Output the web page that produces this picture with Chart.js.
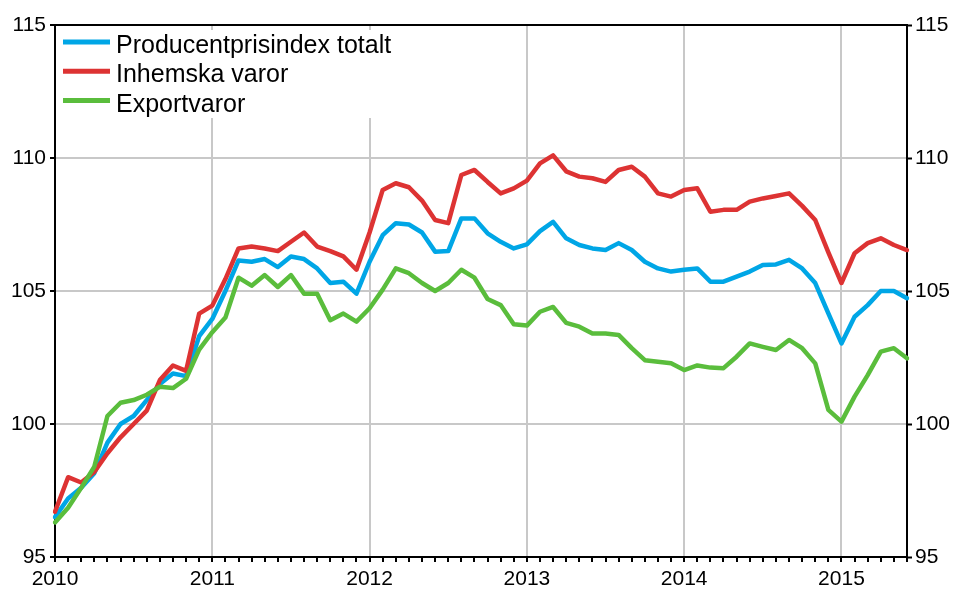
<!DOCTYPE html>
<html>
<head>
<meta charset="utf-8">
<script src="https://cdn.jsdelivr.net/npm/chart.js@4.4.1/dist/chart.umd.min.js"></script>
<style>
html,body{margin:0;padding:0;background:#fff;}
canvas{display:block;}
</style>
</head>
<body>
<canvas id="c" width="956" height="590"></canvas>
<script>
// ---- data ----
const years = ['2010','2011','2012','2013','2014','2015'];
const months = ['01','02','03','04','05','06','07','08','09','10','11','12'];
const monthCount = 66; // Jan 2010 .. Jun 2015
const categories = [];
for (let i = 0; i < monthCount; i++) {
  categories.push(years[Math.floor(i / 12)] + 'M' + months[i % 12]);
}

const seriesNames = ['Producentprisindex totalt', 'Inhemska varor', 'Exportvaror'];

const totalt = [
  96.5, 97.2, 97.6, 98.15, 99.3, 100.0, 100.3, 100.9, 101.5, 101.9, 101.8, 103.3,
  103.95, 105.0, 106.15, 106.1, 106.2, 105.9, 106.3, 106.2, 105.85, 105.3, 105.35, 104.9,
  106.1, 107.1, 107.55, 107.5, 107.2, 106.48, 106.5, 107.73, 107.73, 107.17, 106.85, 106.6,
  106.75, 107.25, 107.6, 106.98, 106.73, 106.6, 106.54, 106.8, 106.54, 106.1, 105.85, 105.73,
  105.8, 105.85, 105.35, 105.35, 105.54, 105.73, 105.98, 106.0, 106.17, 105.85, 105.3, 104.16,
  103.03, 104.03, 104.47, 105.0, 105.0, 104.73
];

const inhemska = [
  96.7, 98.0, 97.8, 98.2, 98.9, 99.5, 100.0, 100.5, 101.65, 102.2, 102.0, 104.15,
  104.45, 105.45, 106.6, 106.67, 106.6, 106.5, 106.85, 107.2, 106.67, 106.5, 106.3, 105.8,
  107.2, 108.8, 109.05, 108.9, 108.4, 107.67, 107.55, 109.36, 109.55, 109.1, 108.67, 108.86,
  109.15, 109.8, 110.1, 109.5, 109.3, 109.24, 109.1, 109.55, 109.67, 109.3, 108.67, 108.55,
  108.8, 108.86, 107.98, 108.05, 108.05, 108.36, 108.48, 108.57, 108.67, 108.2, 107.67, 106.45,
  105.3, 106.42, 106.8, 106.98, 106.73, 106.54
];

const exportvaror = [
  96.3, 96.85, 97.6, 98.4, 100.3, 100.8, 100.9, 101.1, 101.4, 101.35, 101.7, 102.8,
  103.45, 104.0, 105.5, 105.2, 105.6, 105.15, 105.6, 104.9, 104.9, 103.9, 104.15, 103.85,
  104.35, 105.05, 105.85, 105.67, 105.3, 105.0, 105.3, 105.8, 105.5, 104.7, 104.47, 103.75,
  103.7, 104.22, 104.4, 103.8, 103.66, 103.4, 103.4, 103.35, 102.85, 102.4, 102.34, 102.28,
  102.03, 102.2, 102.12, 102.1, 102.53, 103.03, 102.9, 102.78, 103.16, 102.85, 102.28, 100.53,
  100.09, 101.03, 101.84, 102.72, 102.85, 102.47
];

const yMin = 95, yMax = 115, yStep = 5;

// ---- styles ----
const colBlue = '#00a6e6', colRed = '#dd3333', colGreen = '#5abd3c';
const gridCol = '#c8c8c8';
const fontFam = '"Liberation Sans", Arial, sans-serif';

const legendPlugin = {
  id: 'boxLegend',
  beforeDatasetsDraw(chart) {
    const {ctx, chartArea} = chart;
    ctx.save();
    ctx.fillStyle = '#fff';
    ctx.fillRect(chartArea.left + 2, 30, 353, 88);
    chart.data.datasets.forEach((ds, i) => {
      const y = 42 + i * 29.3;
      ctx.strokeStyle = ds.borderColor;
      ctx.lineWidth = 5;
      ctx.beginPath();
      ctx.moveTo(63, y);
      ctx.lineTo(110, y);
      ctx.stroke();
      ctx.fillStyle = '#000';
      ctx.font = '25px ' + fontFam;
      ctx.textBaseline = 'alphabetic';
      ctx.textAlign = 'left';
      ctx.fillText(ds.label, 116, y + 11);
    });
    ctx.restore();
  }
};

const tickFont = {family: fontFam, size: 21};

new Chart(document.getElementById('c'), {
  type: 'line',
  data: {
    labels: categories,
    datasets: [
      {label: seriesNames[0], data: totalt, borderColor: colBlue, order: 3},
      {label: seriesNames[1], data: inhemska, borderColor: colRed, order: 2},
      {label: seriesNames[2], data: exportvaror, borderColor: colGreen, order: 1}
    ].map(d => Object.assign(d, {borderWidth: 4.5, pointRadius: 0, tension: 0, fill: false, borderJoinStyle: 'round', borderCapStyle: 'round'}))
  },
  options: {
    responsive: false,
    animation: false,
    layout: {padding: {top: 25, left: 0, right: 0, bottom: 0}},
    plugins: {legend: {display: false}, tooltip: {enabled: false}},
    scales: {
      x: {
        type: 'category',
        offset: false,
        afterFit(s) { s.height = 33; },
        border: {color: '#000', width: 2},
        grid: {
          offset: false,
          color: (c) => (c.index % 12 === 0 && c.index > 0) ? gridCol : 'rgba(0,0,0,0)',
          lineWidth: 2,
          tickColor: '#000',
          tickWidth: 2,
          tickLength: 5
        },
        ticks: {
          autoSkip: false,
          maxRotation: 0,
          minRotation: 0,
          padding: 5,
          color: '#000',
          font: tickFont,
          callback: (v, i) => (i % 12 === 0) ? years[i / 12] : ''
        }
      },
      y: {
        position: 'left',
        min: yMin, max: yMax,
        afterFit(s) { s.width = 55; },
        border: {color: '#000', width: 2},
        grid: {
          color: (c) => c.tick.value === yMax ? '#000' : (c.tick.value === yMin ? 'rgba(0,0,0,0)' : gridCol),
          lineWidth: 2,
          tickColor: '#000',
          tickWidth: 2,
          tickLength: 5
        },
        ticks: {stepSize: yStep, padding: 4, color: '#000', font: tickFont}
      },
      y2: {
        position: 'right',
        min: yMin, max: yMax,
        afterFit(s) { s.width = 49; },
        border: {color: '#000', width: 2},
        grid: {drawOnChartArea: false, tickColor: '#000', tickWidth: 2, tickLength: 5},
        ticks: {stepSize: yStep, padding: 3, color: '#000', font: tickFont}
      }
    }
  },
  plugins: [legendPlugin]
});
</script>
</body>
</html>
